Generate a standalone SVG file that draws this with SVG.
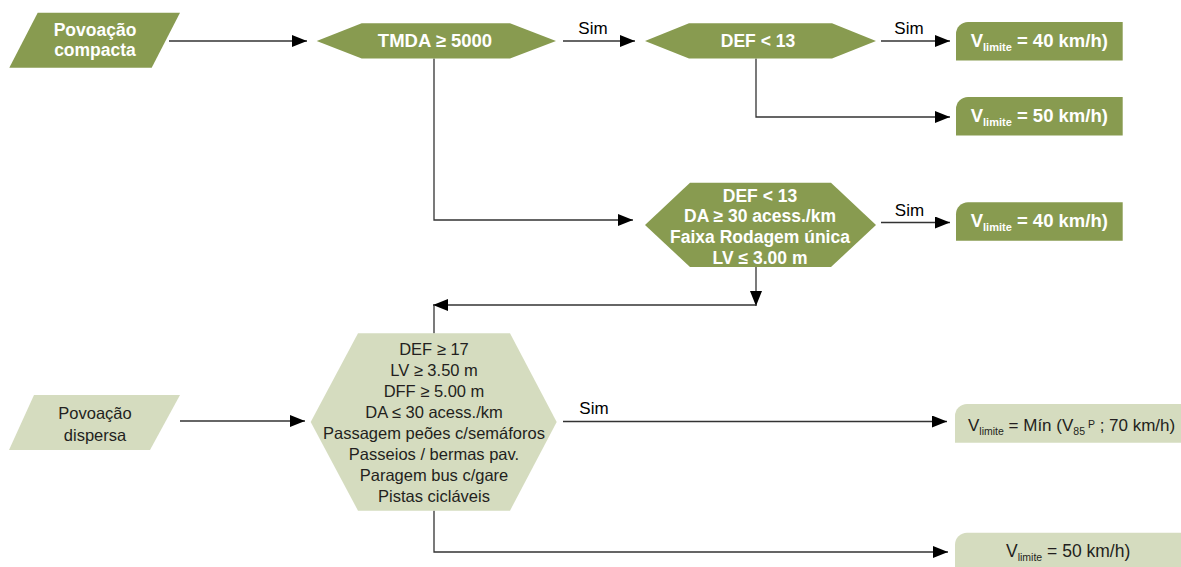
<svg xmlns="http://www.w3.org/2000/svg" width="1181" height="567" viewBox="0 0 1181 567">
  <defs>
    <marker id="arrow" markerUnits="userSpaceOnUse" markerWidth="15" markerHeight="12" refX="15" refY="6" orient="auto">
      <path d="M0,0 L15,6 L0,12 Z" fill="#000"/>
    </marker>
    <style>
      .dark { fill: #889b50; }
      .light { fill: #d5dcbf; }
      .tw { font-family: "Liberation Sans", Arial, sans-serif; font-size: 17.5px; font-weight: bold; fill: #fff; }
      .tb { font-family: "Liberation Sans", Arial, sans-serif; font-size: 16.5px; fill: #231f20; }
      .sim { font-family: "Liberation Sans", Arial, sans-serif; font-size: 17px; fill: #000; text-anchor: middle; }
      .mid { text-anchor: middle; }
      .big { font-size: 18.5px; }
      .vb { font-size: 17.5px; }
      .vm { font-size: 17px; }
      .sw { font-size: 11px; }
      .sb { font-size: 10.5px; }
      .edge { fill: none; stroke: #333; stroke-width: 1.3; }
      .edge.a { marker-end: url(#arrow); }
    </style>
  </defs>
  <rect width="1181" height="567" fill="#fff"/>

  <!-- connectors -->
  <g id="connectors">
    <path class="edge a" d="M169,41 H307"/>
    <path class="edge a" d="M563,41 H635"/>
    <path class="edge a" d="M881,41 H950"/>
    <path class="edge a" d="M756,58.5 V117 H950"/>
    <path class="edge a" d="M434,58.5 V220 H633"/>
    <path class="edge a" d="M881,222.5 H950"/>
    <path class="edge a" d="M756,267 V306"/>
    <path class="edge a" d="M756,305 H433"/>
    <path class="edge" d="M434,305 V333.5"/>
    <path class="edge a" d="M180,421 H305"/>
    <path class="edge a" d="M563,421.5 H947"/>
    <path class="edge a" d="M434,510.5 V552 H948"/>
    <text class="sim" x="593" y="34">Sim</text>
    <text class="sim" x="909" y="34">Sim</text>
    <text class="sim" x="909.5" y="215.5">Sim</text>
    <text class="sim" x="594" y="414">Sim</text>
  </g>

  <!-- start: compact settlement -->
  <g id="povoacao-compacta">
    <polygon class="dark" points="37.7,12.7 180,12.7 151.7,67.7 9.3,67.7"/>
    <text class="tw mid" x="95" y="36">Povoação</text>
    <text class="tw mid" x="95" y="55.5">compacta</text>
  </g>

  <!-- decision: traffic volume -->
  <g id="tmda">
    <polygon class="dark" points="316.7,41 361.7,23.3 510,23.3 556,41 510,58.5 361.7,58.5"/>
    <text class="tw mid big" x="435" y="47">TMDA ≥ 5000</text>
  </g>

  <!-- decision: DEF < 13 -->
  <g id="def13">
    <polygon class="dark" points="645,41 689,23.3 832,23.3 876,41 832,58.5 689,58.5"/>
    <text class="tw mid" x="758" y="47">DEF &lt; 13</text>
  </g>

  <g id="v40-a">
    <path class="dark" d="M956,34 A12,12 0 0 1 968,22 H1122.7 V60.5 H956 Z"/>
    <text class="tw big" x="970.7" y="47">V<tspan class="sw" dy="4">limite</tspan><tspan dy="-4"> = 40 km/h)</tspan></text>
  </g>

  <g id="v50-a">
    <path class="dark" d="M956,109 A12,12 0 0 1 968,97 H1122.7 V135.5 H956 Z"/>
    <text class="tw big" x="970.7" y="122">V<tspan class="sw" dy="4">limite</tspan><tspan dy="-4"> = 50 km/h)</tspan></text>
  </g>

  <!-- decision: combined criteria -->
  <g id="criterios-compacta">
    <polygon class="dark" points="645,225 690,182.7 831,182.7 876,225 831,267 690,267"/>
    <text class="tw mid" x="760" y="201.5">DEF &lt; 13</text>
    <text class="tw mid" x="760" y="222.2">DA ≥ 30 acess./km</text>
    <text class="tw mid" x="760" y="242.9">Faixa Rodagem única</text>
    <text class="tw mid" x="760" y="263.6">LV ≤ 3.00 m</text>
  </g>

  <g id="v40-b">
    <path class="dark" d="M956,214.3 A12,12 0 0 1 968,202.3 H1122.7 V240.7 H956 Z"/>
    <text class="tw big" x="970.7" y="227.2">V<tspan class="sw" dy="4">limite</tspan><tspan dy="-4"> = 40 km/h)</tspan></text>
  </g>

  <!-- start: dispersed settlement -->
  <g id="povoacao-dispersa">
    <polygon class="light" points="34,395 180,395 150,450 9,450"/>
    <text class="tb mid" x="95" y="419">Povoação</text>
    <text class="tb mid" x="95" y="441">dispersa</text>
  </g>

  <!-- decision: dispersed settlement criteria -->
  <g id="criterios-dispersa">
    <polygon class="light" points="310.7,422 358,333.3 510,333.3 556.7,422 510,510.7 358,510.7"/>
    <text class="tb mid" x="434" y="355">DEF ≥ 17</text>
    <text class="tb mid" x="434" y="376">LV ≥ 3.50 m</text>
    <text class="tb mid" x="434" y="397">DFF ≥ 5.00 m</text>
    <text class="tb mid" x="434" y="418">DA ≤ 30 acess./km</text>
    <text class="tb mid" x="434" y="439">Passagem peões c/semáforos</text>
    <text class="tb mid" x="434" y="460">Passeios / bermas pav.</text>
    <text class="tb mid" x="434" y="481">Paragem bus c/gare</text>
    <text class="tb mid" x="434" y="502">Pistas cicláveis</text>
  </g>

  <g id="v-min">
    <path class="light" d="M955,416 A12,12 0 0 1 967,404 H1181 V442.7 H955 Z"/>
    <text class="tb vm" x="968" y="431">V<tspan class="sb" dy="3.5">limite</tspan><tspan dy="-3.5"> = Mín (V</tspan><tspan class="sb" dy="3.5">85</tspan><tspan class="sb" dy="-7"> P</tspan><tspan dy="3.5"> ; 70 km/h)</tspan></text>
  </g>

  <g id="v50-b">
    <path class="light" d="M955,544.7 A12,12 0 0 1 967,532.7 H1181 V567 H955 Z"/>
    <text class="tb vb" x="1006" y="557.3">V<tspan class="sb" dy="3.5">limite</tspan><tspan dy="-3.5"> = 50 km/h)</tspan></text>
  </g>
</svg>
